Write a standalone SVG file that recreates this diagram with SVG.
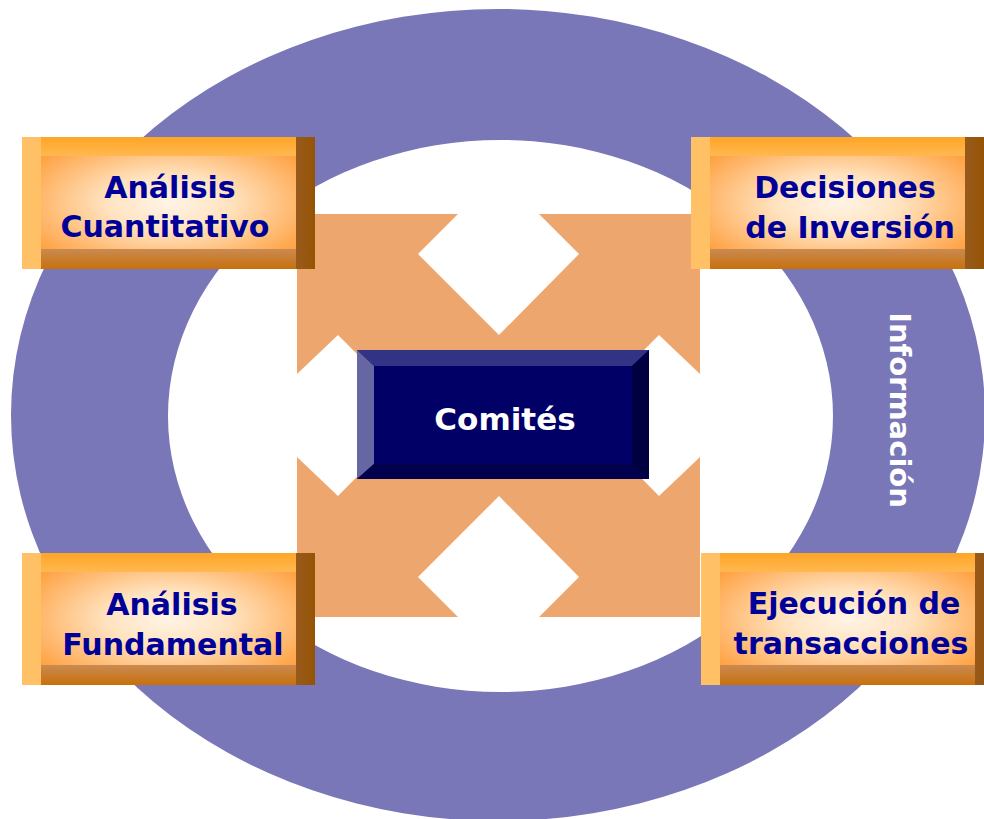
<svg xmlns="http://www.w3.org/2000/svg" width="984" height="819" viewBox="0 0 984 819">
<defs>
<style>
.lbl{font-family:"DejaVu Sans","Verdana",sans-serif;font-weight:bold;font-size:30px;fill:#000099;text-anchor:middle}
.ring{fill:#7977B7;fill-rule:evenodd}
.cross{fill:#EDA66E}
.ls{fill:#FFC066}
.ts{fill:url(#topG)}
.rs{fill:url(#rightG)}
.bs{fill:url(#botG)}
.face{fill:url(#faceG)}
</style>
<radialGradient id="faceG" cx="0.5" cy="0.5" r="0.6">
<stop offset="0" stop-color="#FFF4E6"/>
<stop offset="0.35" stop-color="#FFE3C0"/>
<stop offset="1" stop-color="#FF9830"/>
</radialGradient>
<linearGradient id="topG" x1="0" y1="0" x2="0" y2="1">
<stop offset="0" stop-color="#FFA526"/>
<stop offset="1" stop-color="#FFB850"/>
</linearGradient>
<linearGradient id="botG" x1="0" y1="0" x2="0" y2="1">
<stop offset="0" stop-color="#C98A52"/>
<stop offset="1" stop-color="#C8700C"/>
</linearGradient>
<linearGradient id="rightG" x1="0" y1="0" x2="1" y2="0">
<stop offset="0" stop-color="#985A1C"/>
<stop offset="1" stop-color="#955404"/>
</linearGradient>
<g id="boxShape">
<rect class="face" x="0" y="0" width="293" height="132"/>
<rect class="ts" x="19" y="0" width="255" height="19"/>
<rect class="bs" x="19" y="112" width="255" height="20"/>
<rect class="ls" x="0" y="0" width="19" height="132"/>
<rect class="rs" x="274" y="0" width="19" height="132"/>
</g>
</defs>
<rect width="984" height="819" fill="#FFFFFF"/>
<g id="ring">
<path class="ring" d="M11,415 A487,406 0 1,0 985,415 A487,406 0 1,0 11,415 Z M168,416 A332.5,276 0 1,1 833,416 A332.5,276 0 1,1 168,416 Z"/>
<text transform="translate(890,410) rotate(90)" text-anchor="middle" font-family="DejaVu Sans, Verdana, sans-serif" font-weight="bold" font-size="29" fill="#FFFFFF">Información</text>
</g>
<g id="connectors">
<path class="cross" d="M297,214 L458,214 L418,254 L499,335 L579,254 L539,214 L700,214 L700,374 L659,335 L579,415 L659,496 L700,457 L700,617 L539,617 L579,577 L499,496 L418,577 L458,617 L297,617 L297,457 L338,496 L418,415 L338,335 L297,374 Z"/>
</g>
<g id="comites">
<rect x="357" y="350" width="292" height="129" fill="#000066"/>
<polygon points="357,350 649,350 632,366 374,366" fill="#333385"/>
<polygon points="357,350 374,366 374,464 357,479" fill="#6666A3"/>
<polygon points="649,350 649,479 632,464 632,366" fill="#000040"/>
<polygon points="357,479 374,464 632,464 649,479" fill="#00004D"/>
<text x="505" y="430" class="lbl" style="fill:#FFFFFF;font-size:31px">Comités</text>
</g>
<g id="analisis-cuantitativo">
<use href="#boxShape" x="22" y="137"/>
<text class="lbl" x="170" y="198">Análisis</text>
<text class="lbl" x="165" y="237">Cuantitativo</text>
</g>
<g id="decisiones-inversion">
<use href="#boxShape" x="691" y="137"/>
<text class="lbl" x="845" y="198">Decisiones</text>
<text class="lbl" x="850" y="238">de Inversión</text>
</g>
<g id="analisis-fundamental">
<use href="#boxShape" x="22" y="553"/>
<text class="lbl" x="172" y="615">Análisis</text>
<text class="lbl" x="173" y="655">Fundamental</text>
</g>
<g id="ejecucion-transacciones">
<use href="#boxShape" x="701" y="553"/>
<text class="lbl" x="854" y="614">Ejecución de</text>
<text class="lbl" x="851" y="654">transacciones</text>
</g>
</svg>
